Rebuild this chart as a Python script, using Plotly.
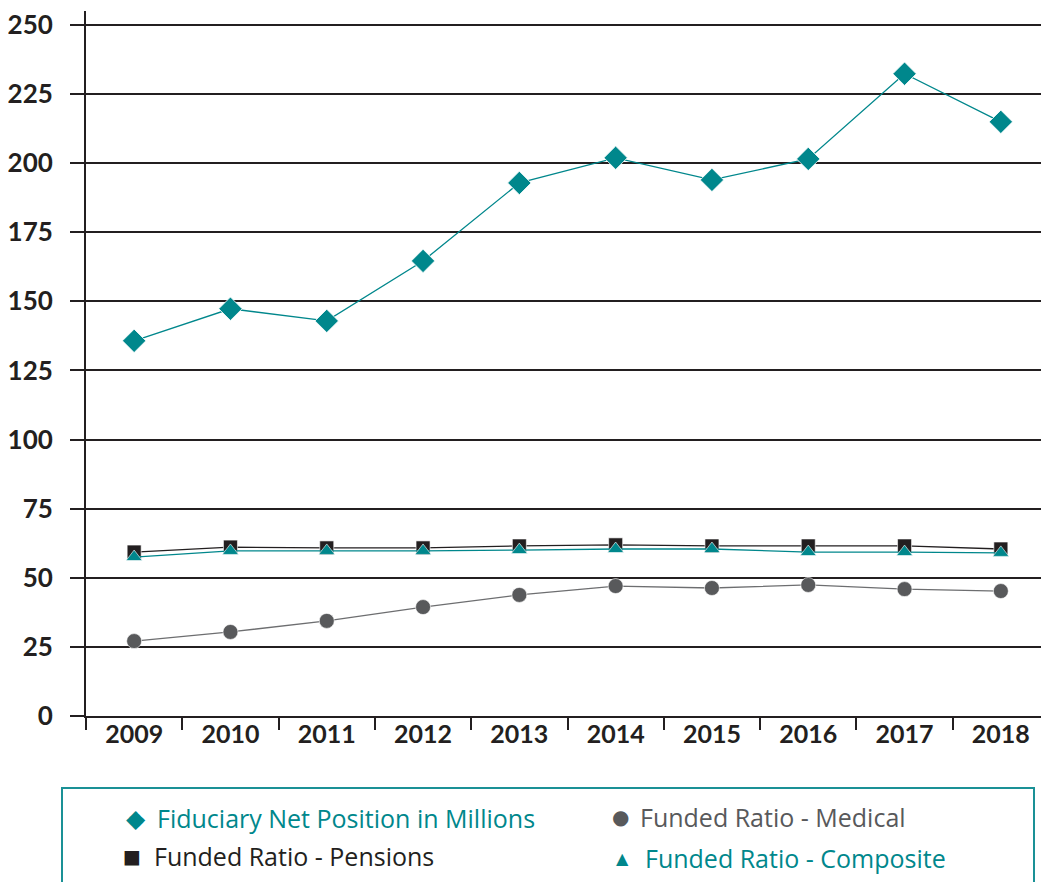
import plotly.graph_objects as go

years = ["2009", "2010", "2011", "2012", "2013", "2014", "2015", "2016", "2017", "2018"]
fiduciary = [135.7, 147.3, 142.9, 164.6, 192.8, 201.9, 193.9, 201.5, 232.3, 214.9]
pensions = [59.3, 61.1, 60.8, 60.8, 61.5, 61.9, 61.5, 61.5, 61.5, 60.4]
composite = [57.5, 59.7, 59.7, 59.7, 60.0, 60.4, 60.4, 59.3, 59.3, 59.0]
medical = [27.1, 30.4, 34.4, 39.4, 43.8, 47.0, 46.3, 47.4, 45.9, 45.2]
y_ticks = [0, 25, 50, 75, 100, 125, 150, 175, 200, 225, 250]

TEAL = "#00878c"
BLACK = "#231f20"
GRAY = "#58595b"

OFF = 8  # page body margin
W, H = 1049 - OFF, 882 - OFF
L, R, T, B = 86 - OFF, 0, 11 - OFF, 166
PW = W - L - R
PH = H - T - B

def px(x):
    return (x - OFF - L) / PW

def py(y):
    return (H - B - (y - OFF)) / PH

fig = go.Figure()
fig.add_trace(go.Scatter(x=years, y=fiduciary, mode="lines+markers",
                         name="Fiduciary Net Position in Millions",
                         line=dict(color=TEAL, width=1.3),
                         marker=dict(symbol="diamond", size=18, color=TEAL,
                                     line=dict(color="white", width=0.8))))
fig.add_trace(go.Scatter(x=years, y=medical, mode="lines+markers",
                         name="Funded Ratio - Medical",
                         line=dict(color="#6d6e70", width=1.3),
                         marker=dict(symbol="circle", size=15, color=GRAY,
                                     line=dict(color="white", width=0.6))))
fig.add_trace(go.Scatter(x=years, y=pensions, mode="lines+markers",
                         name="Funded Ratio - Pensions",
                         line=dict(color=BLACK, width=1.3),
                         marker=dict(symbol="square", size=14, color=BLACK,
                                     line=dict(color="white", width=0.6))))
fig.add_trace(go.Scatter(x=years, y=composite, mode="lines+markers",
                         name="Funded Ratio - Composite",
                         line=dict(color=TEAL, width=1.3),
                         marker=dict(symbol="triangle-up", size=14, color=TEAL,
                                     line=dict(color="white", width=0.6))))

# manual legend
legend_font = "Open Sans"
fs = 25
entries = [
    (136, 818, "◆", TEAL, 155, "Fiduciary Net Position in Millions", TEAL, 25),
    (620, 817, "●", GRAY, 638, "Funded Ratio - Medical", GRAY, 20),
    (132, 856, "■", BLACK, 152, "Funded Ratio - Pensions", BLACK, 19),
    (622, 858, "▲", TEAL, 643, "Funded Ratio - Composite", TEAL, 16),
]
annotations = []
for mx, my, sym, mc, tx, txt, tc, ms in entries:
    annotations.append(dict(x=px(mx), y=py(my), xref="paper", yref="paper",
                            text=sym, showarrow=False, xanchor="center", yanchor="middle",
                            font=dict(size=ms, color=mc, family="DejaVu Sans")))
    annotations.append(dict(x=px(tx), y=py(my), xref="paper", yref="paper",
                            text=txt, showarrow=False, xanchor="left", yanchor="middle",
                            font=dict(size=fs, color=tc, family=legend_font)))

shapes = [dict(type="rect", xref="paper", yref="paper",
               x0=px(62), x1=px(1034), y0=py(900), y1=py(788),
               line=dict(color="#1a9196", width=2), fillcolor="rgba(0,0,0,0)")]

fig.update_layout(
    width=W, height=H,
    margin=dict(l=L, r=R, t=T, b=B, autoexpand=False),
    plot_bgcolor="white", paper_bgcolor="white",
    showlegend=False,
    annotations=annotations,
    shapes=shapes,
    xaxis=dict(type="category", categoryorder="array", categoryarray=years,
               range=[-0.5, 9.5], showgrid=False, showline=True, linecolor=BLACK,
               linewidth=2, ticks="outside", tickson="boundaries", ticklen=12,
               tickwidth=2, tickcolor=BLACK, ticklabelstandoff=-5,
               automargin=False, ticklabeloverflow="allow",
               tickfont=dict(family="Lato", size=25, color=BLACK, weight="bold")),
    yaxis=dict(range=[0, 255], tickvals=y_ticks, showgrid=True, gridcolor=BLACK,
               gridwidth=2, showline=True, linecolor=BLACK, linewidth=2,
               ticks="outside", ticklen=14, tickwidth=2, tickcolor=BLACK,
               zeroline=False, ticklabelstandoff=12,
               automargin=False, ticklabeloverflow="allow",
               tickfont=dict(family="Lato", size=26, color=BLACK, weight="bold")),
)

fig.write_html("out.html")
